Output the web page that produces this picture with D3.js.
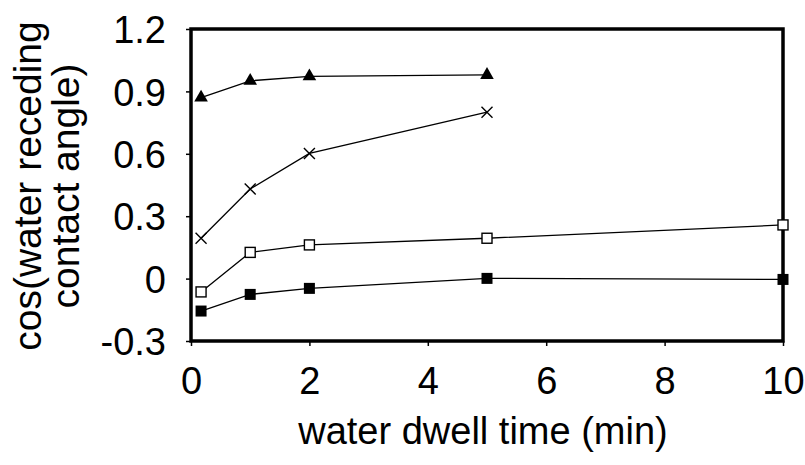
<!DOCTYPE html>
<html><head><meta charset="utf-8">
<script src="https://cdn.jsdelivr.net/npm/d3@7"></script>
<style>body{margin:0;background:#fff}svg{display:block}text{font-family:"Liberation Sans",Arial,sans-serif;fill:#000}</style>
</head><body><svg id="c" width="805" height="465"></svg>
<script>
const times = [0.17, 1, 2, 5, 10];
const triangleVals = [0.87, 0.951, 0.972, 0.979];
const crossVals = [0.194, 0.431, 0.602, 0.80];
const openSquareVals = [-0.064, 0.126, 0.162, 0.194, 0.258];
const filledSquareVals = [-0.156, -0.076, -0.047, 0.001, -0.004];
const xTicks = [0, 2, 4, 6, 8, 10];
const yTicks = [-0.3, 0, 0.3, 0.6, 0.9, 1.2];
const yTickLabels = ["-0.3", "0", "0.3", "0.6", "0.9", "1.2"];
const xTitle = "water dwell time (min)";
const yTitleLines = ["cos(water receding", "contact angle)"];

const svg = d3.select("#c");
const L = 191, R = 783, T = 29, B = 341;
const x = d3.scaleLinear().domain([0, 10]).range([L, R]);
const y = d3.scaleLinear().domain([-0.3, 1.2]).range([B, T]);

const series = [
  {vals: triangleVals, type: "tri"},
  {vals: crossVals, type: "cross"},
  {vals: openSquareVals, type: "open"},
  {vals: filledSquareVals, type: "filled"}
];

// axes
const yAxis = d3.axisLeft(y).tickValues(yTicks).tickSize(5).tickPadding(20)
  .tickFormat((d, i) => yTickLabels[i]);
const gy = svg.append("g").attr("transform", `translate(${L},0)`).call(yAxis);
gy.select(".domain").remove();
gy.selectAll("line").attr("stroke", "#000").attr("stroke-width", 1.5);
gy.selectAll("text").style("font-size", "38px").style("font-family", '"Liberation Sans",Arial,sans-serif').attr("dy", "0.36em");

const xAxis = d3.axisBottom(x).tickValues(xTicks).tickSize(5).tickPadding(21)
  .tickFormat(d3.format("d"));
const gx = svg.append("g").attr("transform", `translate(0,${B})`).call(xAxis);
gx.select(".domain").remove();
gx.selectAll("line").attr("stroke", "#000").attr("stroke-width", 1.5);
gx.selectAll("text").style("font-size", "38px").style("font-family", '"Liberation Sans",Arial,sans-serif');

// frame
svg.append("rect").attr("x", L).attr("y", T).attr("width", R - L).attr("height", B - T)
  .attr("fill", "none").attr("stroke", "#000").attr("stroke-width", 3.5);

// lines
const line = d3.line().x((d, i) => x(times[i])).y(d => y(d));
series.forEach(s => {
  svg.append("path").attr("d", line(s.vals)).attr("fill", "none")
    .attr("stroke", "#000").attr("stroke-width", 1.3);
});

// markers
series.forEach(s => {
  const g = svg.append("g");
  s.vals.forEach((v, i) => {
    const cx = x(times[i]), cy = y(v);
    if (s.type === "tri") {
      g.append("path").attr("d", d3.symbol(d3.symbolTriangle, 80)())
        .attr("transform", `translate(${cx},${cy})`).attr("fill", "#000");
    } else if (s.type === "cross") {
      const r = 5.5;
      g.append("path").attr("d", `M${cx-r},${cy-r}L${cx+r},${cy+r}M${cx-r},${cy+r}L${cx+r},${cy-r}`)
        .attr("stroke", "#000").attr("stroke-width", 1.4);
    } else if (s.type === "open") {
      g.append("rect").attr("x", cx - 5).attr("y", cy - 5).attr("width", 10).attr("height", 10)
        .attr("fill", "#fff").attr("stroke", "#000").attr("stroke-width", 1.4);
    } else {
      g.append("rect").attr("x", cx - 5.5).attr("y", cy - 5.5).attr("width", 11).attr("height", 11)
        .attr("fill", "#000");
    }
  });
});

// titles
svg.append("text").attr("x", (L + R) / 2 - 4).attr("y", 444).attr("text-anchor", "middle")
  .style("font-size", "38px").text(xTitle);
const yt = svg.append("text").attr("transform", "translate(0,186) rotate(-90)").attr("text-anchor", "middle")
  .style("font-size", "39px");
yTitleLines.forEach((t, i) => {
  yt.append("tspan").attr("x", 0).attr("y", i === 0 ? 41 : 79).text(t);
});
</script></body></html>
